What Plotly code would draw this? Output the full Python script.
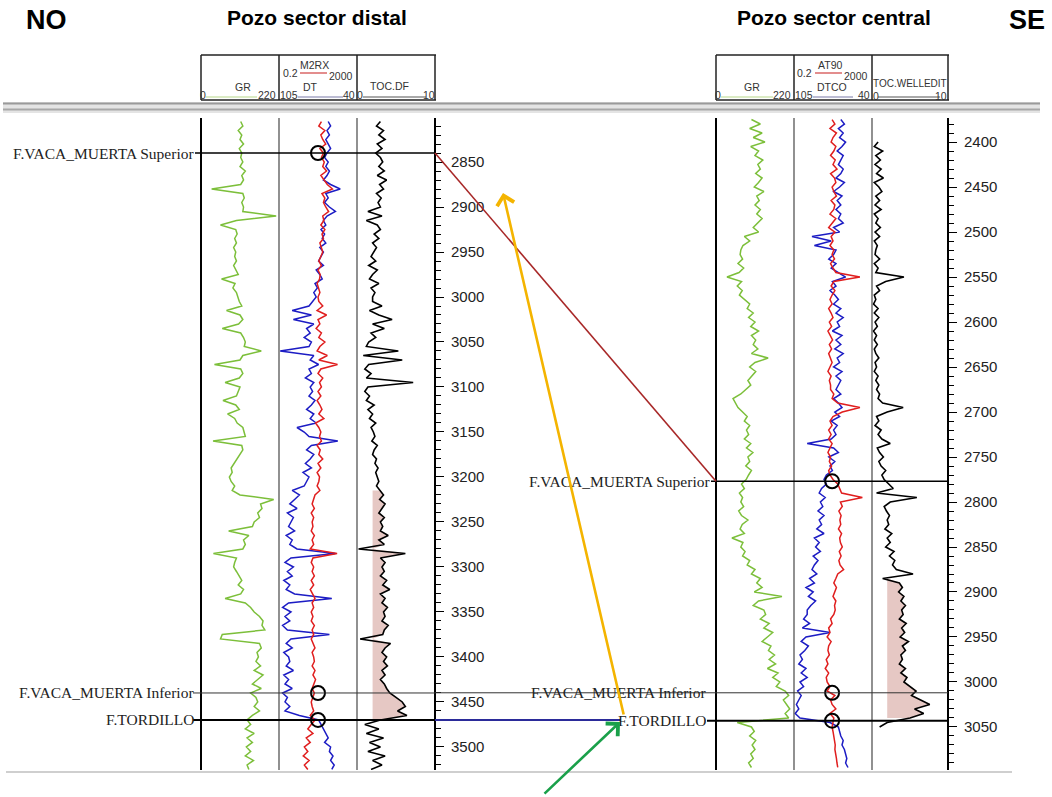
import math
import plotly.graph_objects as go

# ---------------------------------------------------------------- data
# depth sampling of the logs (m, MD)
DEPTH_L = list(range(2805, 3530, 5))   # Pozo sector distal
DEPTH_R = list(range(2375, 3100, 5))   # Pozo sector central

# ---- Pozo sector distal (left well)
GR_L = [112,118,105,115,110,120,108,115,112,118,
        110,125,115,120,112,30,118,122,115,120,
        118,212,100,55,98,102,95,100,92,98,
        95,100,92,98,105,58,96,90,100,104,
        108,115,72,110,118,106,60,112,120,125,
        122,170,118,110,38,112,118,108,68,110,
        105,100,62,98,108,75,95,102,118,122,
        125,34,115,118,110,102,92,85,88,80,
        85,95,88,110,205,168,172,160,165,150,
        145,78,135,120,125,118,35,100,95,92,
        100,108,115,105,120,112,68,125,140,150,
        165,175,172,180,60,55,165,170,158,162,
        155,168,150,175,160,145,170,140,155,160,
        150,165,145,130,140,125,150,130,145,128,
        140,125,148,130,135]
DT_L = [64,62,65,63,66,64,62,65,67,64,
        66,63,65,68,62,54,66,64,67,63,
        58,65,68,66,70,67,69,66,71,68,
        70,72,68,74,71,69,75,73,76,74,
        77,80,94,78,93,76,82,79,84,78,
        80,104,76,79,72,80,78,83,76,79,
        77,80,75,78,82,76,79,74,90,84,
        80,56,78,82,76,79,83,78,85,80,
        82,84,94,88,92,96,90,98,93,95,
        97,92,99,94,96,90,58,95,100,93,
        98,94,101,96,99,92,61,97,102,95,
        100,96,102,98,63,95,99,94,101,97,
        96,99,93,101,97,100,94,102,98,100,
        96,100,88,72,70,68,66,64,67,62,
        63,60,62,59,61]
M2RX_L = [30,22,45,28,35,50,25,38,30,42,
          35,55,28,40,60,110,32,45,38,50,
          70,35,40,28,45,32,38,25,30,35,
          28,22,30,20,26,24,18,22,25,20,
          22,35,18,55,20,25,16,30,22,45,
          25,18,60,22,200,28,20,35,24,30,
          20,28,18,25,32,22,40,15,22,28,
          24,30,18,26,22,35,20,28,18,24,
          22,18,25,14,12,10,13,9,12,10,
          11,9,13,10,12,8,190,11,9,12,
          10,13,9,12,8,11,14,10,12,9,
          11,9,13,10,12,9,11,14,10,12,
          13,10,14,11,15,12,10,13,11,9,
          10,12,8,14,9,6,11,5,8,4,
          6,3.5,7,4,6]
TOC_L = [3.0,2.5,3.4,2.8,3.6,2.6,3.2,2.4,3.0,3.3,
         2.8,3.5,2.6,3.8,2.9,3.4,2.5,3.1,2.7,3.0,
         1.4,3.2,1.2,2.6,3.0,2.2,2.8,2.0,2.5,2.2,
         1.8,2.4,1.5,2.6,2.0,1.6,2.8,1.8,2.3,2.0,
         2.0,3.2,1.6,2.8,4.5,2.0,3.5,1.8,2.4,1.5,
         1.2,5.3,0.8,5.8,1.5,1.0,1.8,1.2,7.2,1.4,
         1.0,1.6,1.2,2.2,1.4,2.0,1.6,2.4,1.8,2.1,
         2.3,1.9,2.6,2.2,2.0,2.5,2.3,2.7,2.4,2.6,
         2.8,2.5,3.0,3.4,2.9,3.6,3.2,2.8,3.5,3.0,
         3.3,3.0,4.0,2.8,3.5,0.2,6.2,3.0,3.6,3.2,
         3.5,3.0,3.8,3.3,4.2,3.0,3.6,3.2,3.9,3.4,
         3.6,3.2,4.0,3.5,3.3,0.4,4.3,3.6,3.2,3.8,
         3.4,3.9,3.2,3.6,3.0,3.5,3.8,4.2,5.0,5.8,
         6.2,5.2,6.4,3.0,1.0,2.8,1.2,3.4,1.6,3.0,
         1.4,3.6,2.0,3.2,1.8]

# ---- Pozo sector central (right well)
GR_R = [100,125,95,130,105,138,98,120,110,132,
        118,125,112,130,120,108,135,115,122,110,
        125,115,130,118,105,120,80,95,76,70,
        68,75,62,78,65,31,72,60,74,66,
        80,95,88,105,92,110,98,120,100,112,
        105,118,100,147,110,95,112,102,90,98,
        85,70,48,55,62,75,88,80,95,86,
        92,80,98,86,104,90,95,84,100,92,
        85,72,80,66,75,70,78,64,72,90,
        74,68,80,45,76,70,82,75,95,88,
        110,100,125,115,130,108,186,120,105,135,
        140,125,150,135,160,145,130,155,148,165,
        150,168,145,175,160,180,170,195,205,190,
        200,208,195,205,60,100,108,95,112,102,
        110,98,105,92,100]
DTCO_R = [66,63,68,64,67,62,65,69,64,66,
          68,64,66,70,63,67,72,65,69,66,
          70,66,68,64,72,67,90,74,88,70,
          72,76,70,74,68,62,73,70,75,71,
          68,72,66,70,64,69,67,73,65,70,
          66,71,64,69,67,72,65,70,66,68,
          70,66,72,68,65,71,67,74,69,72,
          70,74,94,72,68,76,71,75,73,78,
          80,78,82,84,79,83,81,85,80,84,
          82,86,80,88,84,87,83,89,85,88,
          90,86,92,88,95,89,93,87,91,94,
          94,97,92,98,75,95,99,93,96,100,
          98,101,95,99,94,100,97,102,99,101,
          103,101,104,100,75,68,67,66,64,65,
          63,62,61,62,60]
AT90_R = [18,25,14,30,20,16,28,22,15,26,
          20,32,15,24,28,18,22,30,16,25,
          22,14,28,18,12,25,16,20,14,22,
          18,24,15,20,28,480,22,16,25,18,
          14,18,12,16,20,13,17,11,15,19,
          13,17,12,15,18,14,11,16,13,15,
          15,22,18,35,480,60,20,14,18,12,
          16,12,18,14,11,15,13,17,12,14,
          20,35,42,55,640,48,60,40,52,45,
          50,38,55,44,48,60,42,52,40,46,
          70,35,28,22,30,25,20,28,24,26,
          22,15,18,12,14,10,16,12,11,13,
          9,11,8,12,9,10,14,10,25,15,
          18,28,14,22,20,18,20,22,24,26,
          25,28,30,32,35]
TOC_R = [None,None,None,None,None,0.8,0.3,1.4,0.5,1.1,
         0.4,1.2,0.6,1.5,0.3,0.9,1.3,0.5,1.0,0.4,
         1.2,0.3,0.8,0.5,1.1,0.4,1.0,0.3,0.7,0.5,
         0.4,1.0,0.3,0.8,0.5,4.2,1.8,0.6,1.0,0.3,
         0.5,0.2,0.8,0.3,0.9,0.4,0.7,0.2,0.6,0.3,
         0.7,0.3,0.5,0.9,0.4,0.6,0.3,0.8,0.5,0.9,
         0.6,1.0,0.8,1.4,4.1,2.0,0.6,0.9,0.4,1.2,
         0.8,1.3,2.4,0.7,1.0,1.5,0.9,1.2,1.8,1.3,
         1.6,2.2,2.8,0.6,5.9,2.4,1.6,1.9,2.3,2.0,
         2.2,1.7,2.6,2.0,2.4,1.8,2.9,2.3,3.0,2.7,
         3.2,5.4,1.4,3.6,4.0,3.5,4.2,3.8,4.4,3.9,
         4.1,3.6,4.5,3.9,4.3,3.7,4.8,4.0,4.4,3.8,
         4.0,3.6,4.4,3.8,4.6,4.2,5.0,5.8,5.2,6.4,
         7.6,5.6,6.8,5.0,2.0,1.0,None,None,None,None,
         None,None,None,None,None]

# formation tops (m)
TOP_NAMES = ["F.VACA_MUERTA Superior", "F.VACA_MUERTA Inferior", "F.TORDILLO"]
TOPS_L = [2840, 3440, 3470]
TOPS_R = [2777, 3012, 3043]

# TOC shading (cut-off and shaded interval)
TOC_CUTOFF = 2.0
SHADE_L = (3215, 3470)
SHADE_R = (2885, 3043)

# ---------------------------------------------------------------- layout helpers
W, H = 1052, 797
def X(px): return px / W
def Y(py): return 1 - py / H

DOM = [Y(770), Y(118)]
RANGE_L = [3525.6, 2801.1]
RANGE_R = [3097.8, 2373.3]
TRK_L = [201, 279, 357, 435]
TRK_R = [716, 794, 872, 948]

def depth_to_paper(d, rng):
    bot, top = rng
    return DOM[1] - (d - top) / (bot - top) * (DOM[1] - DOM[0])

GREEN = "#7cbf3a"
BLUE = "#1c1cc4"
RED = "#e01e1e"
PINK = "rgba(226,190,186,0.85)"

fig = go.Figure()

def shade(depth, toc, lim, xa, ya):
    d = [z for z, v in zip(depth, toc) if v is not None and lim[0] <= z <= lim[1]]
    v = [max(t, TOC_CUTOFF) for z, t in zip(depth, toc) if t is not None and lim[0] <= z <= lim[1]]
    fig.add_trace(go.Scatter(x=[TOC_CUTOFF] * len(d) + v[::-1], y=d + d[::-1], fill="toself",
                             fillcolor=PINK, line=dict(width=0), mode="lines",
                             xaxis=xa, yaxis=ya, hoverinfo="skip"))

def curve(x, y, color, xa, ya, w=1.5):
    fig.add_trace(go.Scatter(x=x, y=y, mode="lines", line=dict(color=color, width=w),
                             xaxis=xa, yaxis=ya, hoverinfo="skip", connectgaps=False))

# left well
shade(DEPTH_L, TOC_L, SHADE_L, "x4", "y")
curve(GR_L, DEPTH_L, GREEN, "x", "y")
curve(DT_L, DEPTH_L, BLUE, "x2", "y")
curve(M2RX_L, DEPTH_L, RED, "x3", "y")
curve(TOC_L, DEPTH_L, "black", "x4", "y", 1.6)
# right well
shade(DEPTH_R, TOC_R, SHADE_R, "x8", "y2")
curve(GR_R, DEPTH_R, GREEN, "x5", "y2")
curve(DTCO_R, DEPTH_R, BLUE, "x6", "y2")
curve(AT90_R, DEPTH_R, RED, "x7", "y2")
curve(TOC_R, DEPTH_R, "black", "x8", "y2", 1.6)

# markers of the tops on the resistivity/sonic track
fig.add_trace(go.Scatter(x=[20] * 3, y=TOPS_L, mode="markers", xaxis="x3", yaxis="y",
                         marker=dict(symbol="circle-open", size=14, color="black", line=dict(width=2)),
                         cliponaxis=False, hoverinfo="skip"))
fig.add_trace(go.Scatter(x=[18] * 3, y=TOPS_R, mode="markers", xaxis="x7", yaxis="y2",
                         marker=dict(symbol="circle-open", size=14, color="black", line=dict(width=2)),
                         cliponaxis=False, hoverinfo="skip"))

shapes = []
def pline(x0, y0, x1, y1, color, w):
    shapes.append(dict(type="line", xref="paper", yref="paper", x0=X(x0), x1=X(x1),
                       y0=Y(y0), y1=Y(y1), line=dict(color=color, width=w)))

# gray double line under the headers, and bottom gray line
shapes.append(dict(type="rect", xref="paper", yref="paper", x0=X(3), x1=X(1040), y0=Y(113), y1=Y(102),
                   fillcolor="#e4e4e4", line=dict(width=0), layer="below"))
pline(3, 103.5, 1040, 103.5, "#9a9a9a", 2)
pline(3, 109.5, 1040, 109.5, "#a8a8a8", 2)
pline(6, 772, 1012, 772, "#cfcfcf", 2)

# track borders and header boxes
for trk in (TRK_L, TRK_R):
    for i, xp in enumerate(trk):
        outer = i in (0,)
        if i < 3:
            pline(xp, 118, xp, 770, "black" if outer else "#555555", 2 if outer else 1.3)
        pline(xp, 55, xp, 100, "#222222", 1.5)
    pline(trk[0], 55, trk[3] + 1, 55, "#222222", 1.5)
    pline(trk[0], 100, trk[3] + 1, 100, "#222222", 1.5)

# header scale lines
for (a, b, y, c) in [(206, 257, 97, "#b7d88a"), (300, 327, 73, "#d04040"), (298, 343, 97, "#7a7aa8"),
                     (363, 426, 97, "#555555"),
                     (721, 773, 97, "#b7d88a"), (815, 842, 73, "#d04040"), (813, 853, 97, "#7a7aa8"),
                     (878, 940, 97, "#555555")]:
    pline(a, y, b, y, c, 1.2)

# formation top lines
def dline(x0, x1, d, yref, color, w):
    shapes.append(dict(type="line", xref="paper", yref=yref, x0=X(x0), x1=X(x1), y0=d, y1=d,
                       line=dict(color=color, width=w)))

dline(195, 435, TOPS_L[0], "y", "black", 1.6)
dline(193, 435, TOPS_L[1], "y", "#333333", 1.0)
dline(193, 435, TOPS_L[2], "y", "black", 2.0)
dline(711, 948, TOPS_R[0], "y2", "black", 1.6)
dline(435, 948, TOPS_R[1], "y2", "#333333", 1.0)
dline(707, 948, TOPS_R[2], "y2", "black", 2.0)
dline(435, 621, TOPS_L[2], "y", "#2b2b9a", 2.0)
# correlation of Vaca Muerta Superior
shapes.append(dict(type="line", xref="paper", yref="paper", x0=X(435), x1=X(716),
                   y0=depth_to_paper(TOPS_L[0], RANGE_L), y1=depth_to_paper(TOPS_R[0], RANGE_R),
                   line=dict(color="#a82828", width=1.6)))

annotations = []
def text(t, xp, yp, size, color="#333333", xanchor="center", family="Arial", bold=False):
    annotations.append(dict(text=f"<b>{t}</b>" if bold else t, xref="paper", yref="paper",
                            x=X(xp), y=Y(yp), xanchor=xanchor, yanchor="middle", showarrow=False,
                            borderpad=0,
                            font=dict(family=family, size=size, color=color)))

# titles
text("NO", 46, 20, 27, "black", bold=True)
text("Pozo sector distal", 317, 18, 21, "black", bold=True)
text("Pozo sector central", 834, 18, 21, "black", bold=True)
text("SE", 1027, 20, 27, "black", bold=True)

# header labels
for (t, xp, yp) in [("GR", 243, 87), ("0", 203, 95), ("220", 267, 95),
                    ("0.2", 290, 73), ("M2RX", 314, 65), ("2000", 341, 76),
                    ("105", 289, 95), ("DT", 310, 87), ("40", 349, 95),
                    ("TOC.DF", 389, 86), ("0", 360, 95), ("10", 429, 95),
                    ("GR", 752, 87), ("0", 718, 95), ("220", 782, 95),
                    ("0.2", 804, 73), ("AT90", 830, 65), ("2000", 856, 76),
                    ("105", 804, 95), ("DTCO", 832, 87), ("40", 864, 95),
                    ("0", 876, 96), ("10", 941, 96)]:
    text(t, xp, yp, 10.5)
text("TOC.WELLEDIT", 910, 84, 10)

# formation labels
for name, d in zip(TOP_NAMES, TOPS_L):
    annotations.append(dict(text=name, xref="paper", yref="y", x=X(195), y=d, xanchor="right",
                            yanchor="middle", showarrow=False, borderpad=0,
                            font=dict(family="Liberation Serif", size=15.5, color="#222222")))
for name, d, xe in zip(TOP_NAMES, TOPS_R, (711, 707, 707)):
    annotations.append(dict(text=name, xref="paper", yref="y2", x=X(xe), y=d, xanchor="right",
                            yanchor="middle", showarrow=False, borderpad=0,
                            font=dict(family="Liberation Serif", size=15.5, color="#222222")))

# arrows
annotations.append(dict(text="", xref="paper", yref="paper", x=X(503), y=Y(193), ax=121, ay=523,
                        showarrow=True, arrowcolor="#f4b400", arrowwidth=2.6, arrowhead=4,
                        arrowsize=1.3, standoff=0))
annotations.append(dict(text="", xref="paper", yref="paper", x=X(620), y=Y(722), ax=-77, ay=73,
                        showarrow=True, arrowcolor="#1aa04a", arrowwidth=2.6, arrowhead=4,
                        arrowsize=1.3, standoff=0))

def depth_axis(pos, rng):
    return dict(domain=DOM, range=rng, anchor="free", position=X(pos), side="right",
                showline=True, linecolor="black", linewidth=2, ticks="outside", ticklen=8,
                tickwidth=1, tickcolor="black", dtick=50, tick0=0, showgrid=False, zeroline=False,
                ticklabelstandoff=4,
                tickfont=dict(family="Arial", size=15, color="#222222"),
                minor=dict(ticks="outside", ticklen=5, dtick=10, tickcolor="black", showgrid=False))

def track(a, b, rng, ya, typ="linear"):
    return dict(domain=[X(a), X(b)], range=rng, anchor=ya, visible=False, type=typ)

fig.update_layout(
    width=W, height=H, margin=dict(l=0, r=0, t=0, b=0),
    paper_bgcolor="white", plot_bgcolor="white", showlegend=False,
    yaxis=depth_axis(435, RANGE_L),
    yaxis2=depth_axis(948, RANGE_R),
    xaxis=track(201, 279, [0, 220], "y"),
    xaxis2=track(279, 357, [105, 40], "y"),
    xaxis3=dict(overlaying="x2", anchor="y", visible=False, type="log",
                range=[math.log10(0.2), math.log10(2000)]),
    xaxis4=track(357, 435, [0, 10], "y"),
    xaxis5=track(716, 794, [0, 220], "y2"),
    xaxis6=track(794, 872, [105, 40], "y2"),
    xaxis7=dict(overlaying="x6", anchor="y2", visible=False, type="log",
                range=[math.log10(0.2), math.log10(2000)]),
    xaxis8=track(872, 948, [0, 10], "y2"),
    shapes=shapes, annotations=annotations,
)

fig.write_html("out.html")
